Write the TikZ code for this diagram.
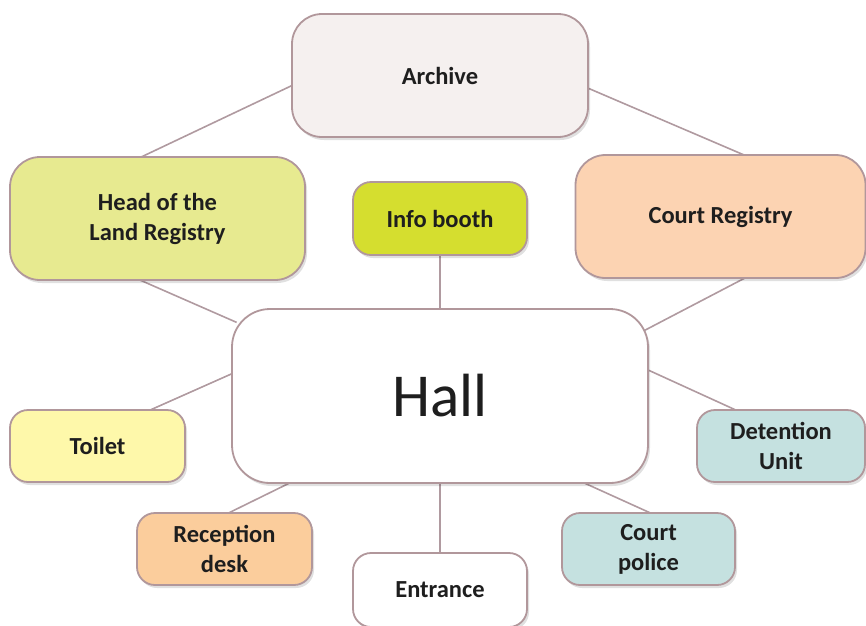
\documentclass[tikz,border=0pt]{standalone}
\usepackage{fontspec}
\setmainfont{Carlito}
\usetikzlibrary{backgrounds,shadows}
\definecolor{bordc}{HTML}{B1979B}
\definecolor{linec}{HTML}{B09AA0}
\definecolor{txtc}{HTML}{1E1E1E}
\definecolor{archf}{HTML}{F5F0EF}
\definecolor{headf}{HTML}{E7EA90}
\definecolor{infof}{HTML}{D5DE2F}
\definecolor{cregf}{HTML}{FCD3B2}
\definecolor{toilf}{HTML}{FEF8AA}
\definecolor{recpf}{HTML}{FBCD9C}
\definecolor{tealf}{HTML}{C5E1E0}
\tikzset{
  box/.style={draw=bordc, line width=1.8pt, inner sep=0pt, align=center,
    text=txtc, font=\fontsize{24.5}{30}\selectfont\bfseries,
    drop shadow={shadow xshift=2pt, shadow yshift=-3pt, opacity=0.12, fill=black}},
  bigbox/.style={box, minimum width=#1, minimum height=123pt, rounded corners=30pt},
  smallbox/.style={box, minimum width=#1, minimum height=72pt, rounded corners=18pt},
  link/.style={draw=linec, line width=1.6pt, shorten <=-6pt, shorten >=-6pt}
}
\begin{document}
\begin{tikzpicture}[x=1pt, y=-1pt]
\useasboundingbox (0,0) rectangle (866,625);
\clip (0,0) rectangle (866,625);
\node[bigbox=296pt, fill=archf] (arch) at (440,75.5) {Archive};
\node[bigbox=295pt, fill=headf] (head) at (157.5,218.5) {Head of the\\Land Registry};
\node[smallbox=174pt, fill=infof, minimum height=73pt] (info) at (440,218.5) {Info booth};
\node[bigbox=290pt, fill=cregf] (creg) at (720.5,216.5) {Court Registry};
\node[box, fill=white, minimum width=416pt, minimum height=174pt, rounded corners=38pt,
  font=\fontsize{61}{72}\selectfont] (hall) at (440,396) {Hall};
\node[smallbox=175pt, fill=toilf] (toil) at (97.5,446) {Toilet};
\node[smallbox=175pt, fill=recpf] (recp) at (224.5,549) {Reception\\desk};
\node[smallbox=174pt, fill=white, minimum height=74pt] (entr) at (440,590) {Entrance};
\node[smallbox=173pt, fill=tealf] (cpol) at (648.5,549) {Court\\police};
\node[smallbox=168pt, fill=tealf] (det) at (781,446) {Detention\\Unit};
\begin{scope}[on background layer]
\draw[link] (head.103.3) -- (arch.184.4);
\draw[link] (arch.355.6) -- (creg.71.9);
\draw[link] (head.256) -- (hall.160.6);
\draw[link] (info.south) -- (hall.north);
\draw[link] (creg.290.8) -- (hall.18.8);
\draw[link] (toil.34) -- (hall.174.5);
\draw[link] (hall.7) -- (det.142.4);
\draw[link] (hall.210) -- (recp.81.3);
\draw[link] (hall.south) -- (entr.north);
\draw[link] (hall.329.4) -- (cpol.north);
\end{scope}
\end{tikzpicture}
\end{document}
